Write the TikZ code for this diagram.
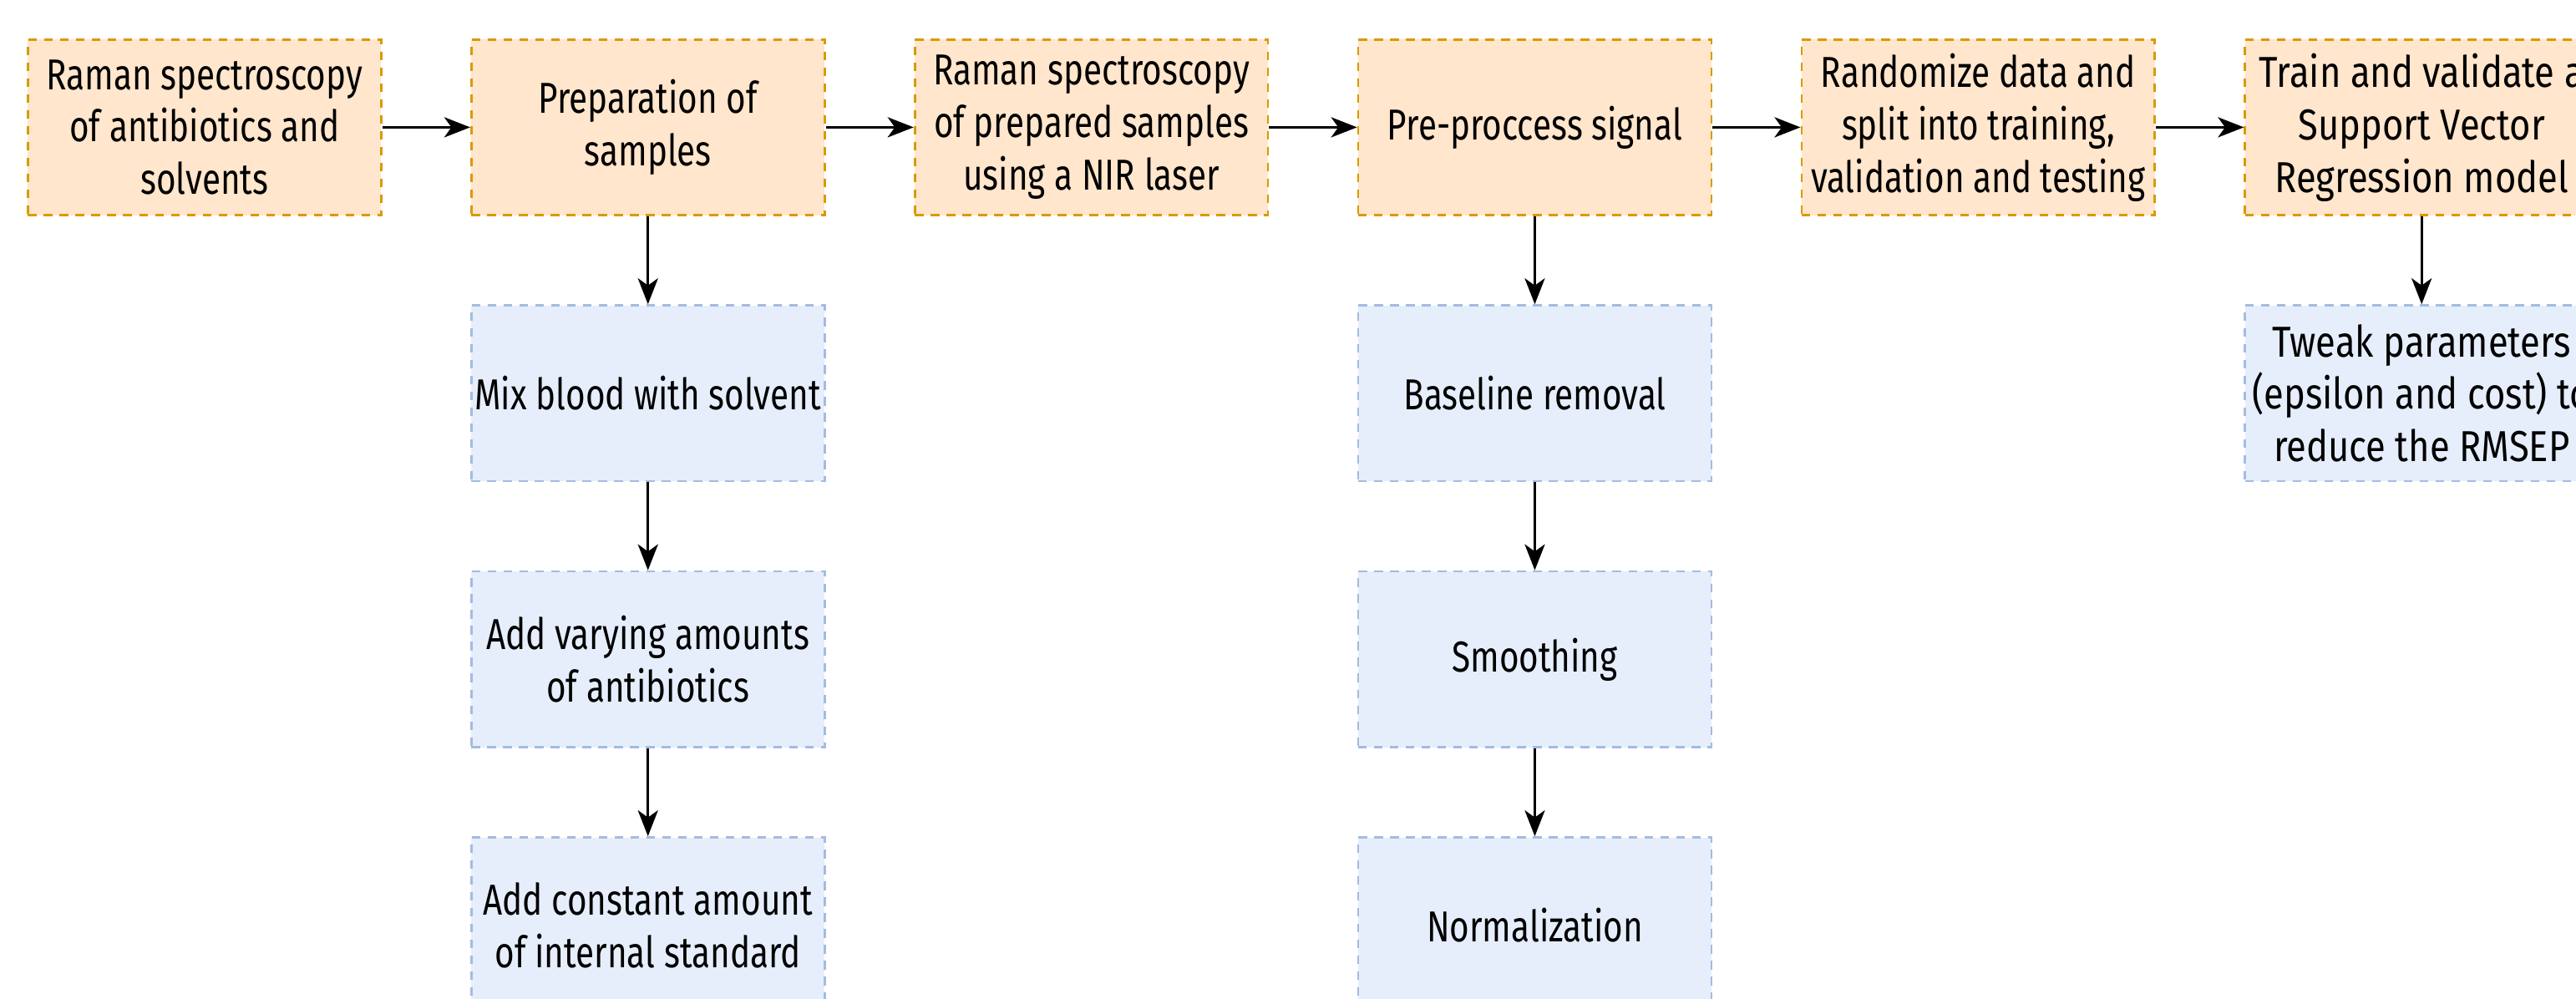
\documentclass[tikz,border=0pt]{standalone}
\usepackage{fontspec}
\setmainfont{Fira Sans}[FakeStretch=0.78]
\newfontfamily\widefont{Fira Sans}[FakeStretch=0.84]
\usetikzlibrary{positioning, arrows.meta}
\definecolor{orfill}{HTML}{FFE6CC}
\definecolor{ordraw}{HTML}{D79B00}
\definecolor{blfill}{HTML}{E6EEFB}
\definecolor{bldraw}{HTML}{A3BCE0}
\tikzstyle{mainstep} = [rectangle, minimum width=4.3cm, minimum height=2.14cm, inner xsep=0pt, align=center, draw=ordraw, fill=orfill, line width=0.8pt, dash pattern=on 3pt off 2.5pt, font=\fontsize{15}{18.2}\selectfont]
\tikzstyle{substep}  = [rectangle, minimum width=4.3cm, minimum height=2.14cm, inner xsep=0pt, align=center, draw=bldraw, fill=blfill, line width=0.8pt, dash pattern=on 3pt off 2.5pt, font=\fontsize{15}{18.2}\selectfont]
\tikzstyle{flow}     = [-{Stealth[length=9pt, width=7pt, inset=2.5pt]}, line width=0.8pt]

\begin{document}
\begin{tikzpicture}[node distance=1.07cm]
            \useasboundingbox (0,0) rectangle (31.36,12.16);
            \node[mainstep] (ramanab)  at (2.49,10.61) {Raman spectroscopy\\of antibiotics and\\solvents};
            \node[mainstep] (prep)     [right=of ramanab ] {Preparation of\\samples};
            \node[mainstep] (ramannir) [right=of prep    ] {Raman spectroscopy\\of prepared samples\\using a NIR laser};
            \node[mainstep] (preproc)  [right=of ramannir] {Pre-proccess signal};
            \node[mainstep] (split)    [right=of preproc ] {Randomize data and\\split into training,\\validation and testing};
            \node[mainstep, font=\fontsize{15}{18.2}\widefont] (svr) [right=of split] {Train and validate a\\Support Vector\\Regression model};

            \node[substep]  (mix)      [below=of prep    ] {Mix blood with solvent};
            \node[substep]  (addab)    [below=of mix     ] {Add varying amounts\\of antibiotics};
            \node[substep]  (addstd)   [below=of addab   ] {Add constant amount\\of internal standard};
            \node[substep]  (baseline) [below=of preproc ] {Baseline removal};
            \node[substep]  (smooth)   [below=of baseline] {Smoothing};
            \node[substep]  (norm)     [below=of smooth  ] {Normalization};
            \node[substep, font=\fontsize{15}{18.2}\widefont] (tweak) [below=of svr] {Tweak parameters\\(epsilon and cost) to\\reduce the RMSEP};

            \draw[flow] (ramanab.east) -- (prep.west);
            \draw[flow] (prep.east) -- (ramannir.west);
            \draw[flow] (ramannir.east) -- (preproc.west);
            \draw[flow] (preproc.east) -- (split.west);
            \draw[flow] (split.east) -- (svr.west);
            \draw[flow] (prep.south) -- (mix.north);
            \draw[flow] (mix.south) -- (addab.north);
            \draw[flow] (addab.south) -- (addstd.north);
            \draw[flow] (preproc.south) -- (baseline.north);
            \draw[flow] (baseline.south) -- (smooth.north);
            \draw[flow] (smooth.south) -- (norm.north);
            \draw[flow] (svr.south) -- (tweak.north);
        \end{tikzpicture}
\end{document}
